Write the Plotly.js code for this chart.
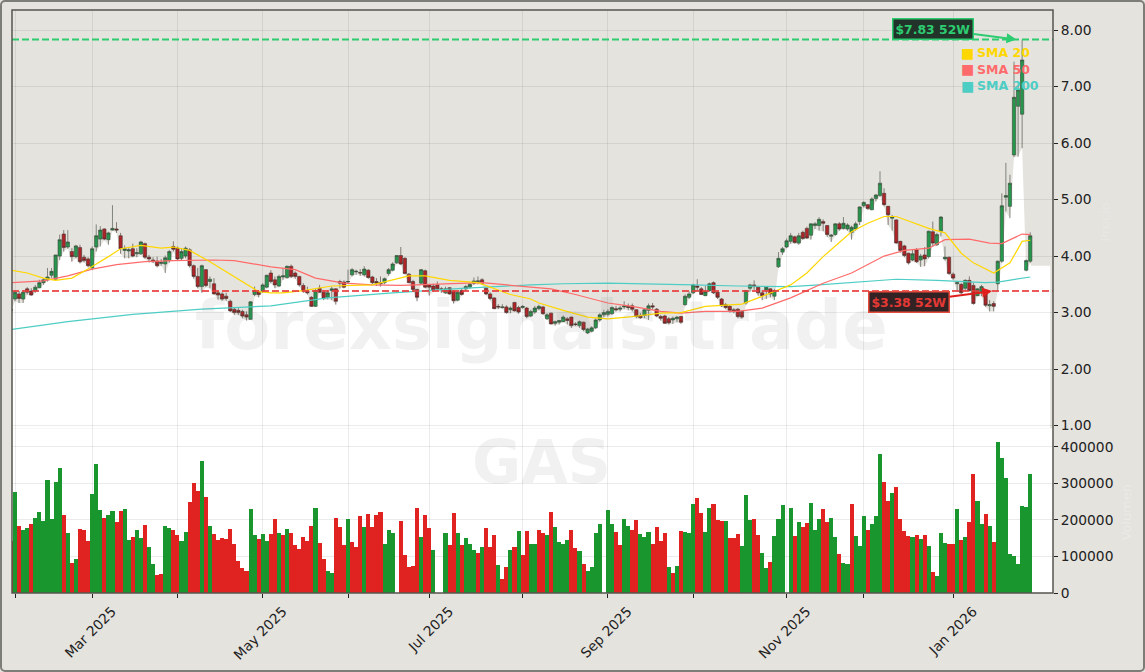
<!DOCTYPE html>
<html>
<head>
<meta charset="utf-8">
<script src="https://cdn.plot.ly/plotly-3.0.1.min.js"></script>
<style>
  html, body { margin: 0; padding: 0; background: #fff; }
  #wrap { position: relative; width: 1145px; height: 672px; }
  #frame { position: absolute; left: 0; top: 0; right: 0; bottom: 0; box-sizing: border-box;
           border: 2px solid #7d7d78; border-radius: 5px; pointer-events: none; }
</style>
</head>
<body>
<div id="wrap"><div id="chart"></div><div id="frame"></div></div>
<script>
// daily candles, index = trading day
var open = [
3.06,3.24,3.33,3.24,3.42,3.38,3.39,3.44,3.53,3.58,3.66,3.59,4.00,4.39,4.16,4.08,3.99,4.15,3.98,3.95,
3.79,4.16,4.30,4.48,4.29,4.46,4.48,4.36,4.10,4.09,4.13,4.04,4.04,4.22,3.98,3.93,3.91,3.87,3.86,3.92,
4.17,4.14,3.96,4.00,4.11,3.83,3.64,3.46,3.76,3.55,3.51,3.35,3.33,3.29,3.20,3.06,3.04,3.02,2.96,2.88,
3.32,3.37,3.37,3.45,3.70,3.58,3.47,3.63,3.62,3.82,3.70,3.64,3.48,3.38,3.27,3.11,3.43,3.36,3.27,3.39,
3.42,3.55,3.54,3.54,3.67,3.72,3.71,3.67,3.75,3.63,3.55,3.53,3.53,3.69,3.75,3.88,4.01,3.96,3.68,3.55,
3.41,3.52,3.74,3.49,3.47,3.49,3.42,3.35,3.44,3.38,3.22,3.39,3.42,3.45,3.52,3.55,3.58,3.43,3.33,3.26,
3.11,3.09,3.10,3.05,3.18,3.09,3.09,3.08,2.94,3.01,3.07,3.10,2.89,2.99,2.81,2.83,2.84,2.89,2.92,2.80,
2.77,2.83,2.64,2.67,2.73,2.87,2.96,2.97,2.98,3.07,3.06,3.10,3.11,3.12,3.05,2.95,2.95,3.04,3.12,3.06,
2.93,2.94,2.89,2.87,2.89,2.93,3.14,3.27,3.35,3.47,3.42,3.30,3.39,3.53,3.36,3.24,3.14,3.11,3.05,3.06,
3.02,3.17,3.43,3.49,3.45,3.35,3.40,3.42,3.29,3.81,4.07,4.16,4.26,4.34,4.23,4.42,4.49,4.37,4.54,4.54,
4.61,4.54,4.35,4.38,4.57,4.49,4.48,4.42,4.48,4.61,4.89,4.91,4.82,5.02,5.07,5.11,4.88,4.67,4.64,4.26,
4.18,4.05,3.93,4.11,3.93,4.02,3.99,4.43,4.20,4.44,3.95,3.98,3.68,3.51,3.50,3.43,3.57,3.48,3.30,3.375,
3.375,3.12,3.16,3.51,3.91,5.04,4.88,5.79,6.65,6.51,3.75,3.91];
var close = [
3.04,3.36,3.25,3.36,3.36,3.31,3.45,3.53,3.58,3.63,3.73,4.02,4.29,4.15,4.25,3.99,4.18,3.90,3.92,3.83,
4.13,4.36,4.46,4.30,4.41,4.49,4.46,4.13,4.13,4.11,4.00,4.06,4.25,3.98,3.95,3.90,3.83,3.89,3.97,4.08,
4.12,3.95,4.08,4.14,3.83,3.64,3.46,3.83,3.48,3.59,3.33,3.31,3.24,3.25,3.03,3.00,3.00,2.94,2.92,3.19,
3.39,3.32,3.49,3.66,3.55,3.49,3.64,3.65,3.82,3.64,3.64,3.49,3.38,3.35,3.11,3.39,3.36,3.25,3.35,3.42,
3.20,3.52,3.45,3.55,3.76,3.73,3.70,3.77,3.62,3.53,3.52,3.51,3.60,3.76,3.86,4.01,3.86,3.69,3.53,3.41,
3.27,3.76,3.45,3.45,3.40,3.42,3.41,3.42,3.33,3.21,3.36,3.32,3.46,3.50,3.56,3.56,3.52,3.33,3.25,3.07,
3.10,3.10,3.00,3.08,3.03,3.01,3.11,2.93,3.02,3.08,3.11,2.98,2.96,2.80,2.84,2.86,2.92,2.86,2.77,2.79,
2.84,2.70,2.71,2.73,2.87,2.96,3.00,3.02,3.09,3.05,3.08,3.12,3.09,3.06,2.93,2.91,3.05,3.12,3.10,2.94,
2.90,2.81,2.82,2.90,2.92,2.83,3.29,3.33,3.49,3.45,3.32,3.37,3.51,3.35,3.27,3.12,3.09,3.04,3.02,2.93,
2.92,3.39,3.49,3.46,3.35,3.30,3.45,3.33,3.39,3.96,4.13,4.27,4.36,4.24,4.36,4.31,4.32,4.57,4.57,4.65,
4.58,4.38,4.37,4.57,4.48,4.58,4.55,4.51,4.57,4.87,4.95,4.84,5.01,5.08,5.29,4.91,4.73,4.70,4.23,4.10,
4.01,3.88,4.04,3.90,4.00,3.95,4.44,4.23,4.38,4.69,3.98,3.69,3.61,3.53,3.35,3.57,3.39,3.16,3.42,3.46,
3.13,3.14,3.11,3.91,4.89,5.07,5.29,6.81,6.94,7.47,3.92,4.36];
var high = [
3.10,3.39,3.38,3.39,3.45,3.43,3.49,3.58,3.61,3.79,3.79,4.02,4.38,4.46,4.46,4.14,4.20,4.20,4.02,3.98,
4.17,4.56,4.53,4.49,4.43,4.90,4.60,4.41,4.19,4.14,4.22,4.14,4.27,4.24,4.02,3.98,3.99,3.95,4.01,4.11,
4.26,4.17,4.14,4.17,4.14,3.85,3.79,3.85,3.77,3.64,3.61,3.38,3.36,3.35,3.23,3.10,3.08,3.05,3.02,3.20,
3.46,3.40,3.52,3.67,3.75,3.64,3.67,3.79,3.83,3.85,3.73,3.65,3.52,3.46,3.29,3.42,3.49,3.40,3.40,3.46,
3.43,3.58,3.57,3.76,3.79,3.76,3.77,3.82,3.77,3.65,3.61,3.64,3.62,3.79,3.89,4.02,4.16,3.98,3.70,3.58,
3.42,3.77,3.76,3.49,3.51,3.55,3.45,3.46,3.45,3.39,3.38,3.42,3.49,3.53,3.62,3.64,3.61,3.45,3.36,3.27,
3.15,3.15,3.13,3.11,3.19,3.12,3.13,3.10,3.05,3.12,3.14,3.12,2.99,3.00,2.86,2.87,2.95,2.92,2.93,2.83,
2.86,2.84,2.73,2.76,2.90,2.99,3.05,3.06,3.11,3.12,3.12,3.20,3.16,3.16,3.06,2.99,3.06,3.16,3.17,3.08,
2.96,2.96,2.92,2.93,2.94,2.94,3.32,3.37,3.51,3.59,3.45,3.47,3.53,3.55,3.37,3.26,3.17,3.13,3.08,3.08,
3.04,3.40,3.51,3.57,3.47,3.40,3.46,3.43,3.42,4.07,4.16,4.31,4.41,4.36,4.41,4.45,4.52,4.58,4.60,4.69,
4.65,4.55,4.39,4.58,4.60,4.69,4.58,4.54,4.61,4.88,4.97,4.92,5.04,5.10,5.50,5.20,4.89,4.73,4.65,4.27,
4.20,4.06,4.12,4.14,4.04,4.16,4.45,4.61,4.41,4.71,4.17,3.99,3.71,3.55,3.52,3.59,3.64,3.53,3.43,3.49,
3.39,3.22,3.20,3.92,5.11,5.65,5.44,7.44,7.02,7.83,3.94,4.42];
var low = [
3.02,3.20,3.17,3.17,3.32,3.30,3.35,3.43,3.49,3.55,3.61,3.58,3.93,4.08,4.13,3.90,3.96,3.87,3.89,3.80,
3.75,4.08,4.17,4.28,4.20,4.45,4.41,4.04,3.96,3.96,3.98,3.98,4.02,3.95,3.89,3.88,3.80,3.83,3.70,3.88,
4.08,3.93,3.93,3.96,3.80,3.60,3.43,3.35,3.45,3.43,3.32,3.23,3.21,3.21,3.01,2.96,2.96,2.90,2.86,2.87,
3.29,3.27,3.35,3.43,3.52,3.43,3.45,3.58,3.60,3.61,3.60,3.46,3.35,3.32,3.10,3.10,3.35,3.22,3.23,3.22,
3.14,3.43,3.43,3.52,3.64,3.67,3.65,3.64,3.60,3.50,3.47,3.46,3.50,3.65,3.73,3.86,3.84,3.68,3.52,3.39,
3.20,3.51,3.43,3.30,3.37,3.39,3.35,3.33,3.32,3.16,3.20,3.30,3.39,3.42,3.49,3.50,3.49,3.31,3.22,3.06,
3.06,3.07,2.98,2.99,3.02,2.98,3.07,2.90,2.92,2.98,3.04,2.96,2.87,2.79,2.77,2.79,2.83,2.79,2.73,2.76,
2.73,2.67,2.62,2.65,2.71,2.84,2.92,2.93,2.96,3.02,3.02,3.06,3.04,3.02,2.90,2.89,2.90,2.87,3.05,2.92,
2.86,2.80,2.79,2.80,2.83,2.80,3.12,3.24,3.33,3.39,3.31,3.29,3.37,3.33,3.24,3.10,3.06,3.00,2.99,2.90,
2.89,3.14,3.37,3.40,3.30,3.22,3.24,3.27,3.22,3.79,4.02,4.14,4.22,4.22,4.20,4.29,4.30,4.29,4.48,4.45,
4.44,4.34,4.25,4.36,4.45,4.47,4.45,4.29,4.45,4.55,4.86,4.82,4.81,4.97,5.05,4.88,4.55,4.45,4.22,4.06,
3.98,3.85,3.91,3.88,3.81,3.82,3.96,4.17,4.18,4.35,3.92,3.67,3.58,3.375,3.33,3.39,3.375,3.14,3.29,3.29,
3.10,3.02,3.02,3.375,3.88,4.79,4.67,5.75,5.76,5.91,3.73,3.88];
var volume = [
141000,276000,184000,173000,178000,189000,205000,222000,197000,309000,203000,304000,342000,214000,165000,83000,94000,175000,173000,143000,
271000,353000,227000,205000,214000,225000,195000,225000,230000,145000,154000,173000,151000,186000,126000,80000,50000,53000,184000,178000,
173000,159000,143000,167000,249000,301000,279000,361000,263000,184000,162000,145000,151000,148000,175000,135000,88000,69000,61000,230000,
159000,148000,162000,143000,162000,203000,165000,159000,175000,165000,132000,121000,154000,143000,184000,233000,137000,94000,61000,55000,
205000,181000,132000,203000,140000,126000,211000,181000,216000,181000,214000,222000,135000,173000,165000,0,197000,105000,72000,75000,
233000,154000,214000,178000,118000,0,0,165000,132000,219000,165000,132000,151000,135000,118000,110000,126000,178000,126000,159000,
77000,39000,72000,118000,126000,170000,105000,170000,135000,135000,173000,165000,159000,222000,181000,140000,135000,145000,173000,124000,
115000,80000,61000,72000,165000,189000,0,227000,189000,167000,132000,203000,184000,173000,200000,162000,154000,167000,135000,181000,
143000,165000,72000,55000,75000,170000,167000,165000,244000,260000,219000,167000,233000,244000,200000,197000,197000,151000,151000,162000,
129000,268000,200000,203000,159000,110000,69000,85000,156000,203000,241000,0,233000,156000,195000,181000,192000,246000,173000,203000,
230000,195000,205000,154000,107000,83000,80000,244000,156000,129000,211000,173000,189000,211000,380000,304000,252000,274000,290000,203000,
170000,156000,154000,159000,148000,159000,129000,58000,47000,165000,137000,135000,135000,230000,145000,154000,195000,325000,252000,189000,
216000,184000,140000,413000,369000,315000,107000,102000,80000,238000,235000,325000];
// bar colour per day, g = green, r = red
var volumeDir = (
"rgrggrgggggggrgrgrrr" + "gggrggrrggrggrggrrgg" + "rrggrrrgrgrrrrrrrrrg" + "grggrrgrgrrrrrrgrrgg" +
"rrrgrrrgrrrrggggrrrr" + "rgrrggggrrgrgggrgrrr" + "grrgrgrrggrrgrggggrr" + "grgggggggrrggrrgggrr" +
"rrgrgrgggrrggrrrgrrr" + "gggrrggrgggggrgrrggg" + "rrggrggrgggrgggrrgrr" + "rrgrgrgrgggrrgrgrrgg" +
"rgrggggggggg").split("");

// moving averages read at their bends
var sma20Days = [0,4,8,11,15,19,24,27,32,37,40,44,49,55,61,64,67,72,79,89,94,98,102,108,115,119,123,128,130,136,142,147,153,160,165,171,180,184,192,196,200,207,211,215,218,226,230,234,237,242,246,249,251];
var sma20 = [3.75,3.70,3.61,3.57,3.61,3.77,3.99,4.13,4.19,4.14,4.16,4.10,3.90,3.64,3.37,3.35,3.35,3.39,3.47,3.49,3.58,3.65,3.65,3.57,3.53,3.43,3.32,3.24,3.17,3.04,2.92,2.89,2.93,2.99,3.00,3.11,3.15,3.26,3.49,3.70,3.99,4.43,4.58,4.70,4.70,4.49,4.41,4.05,3.88,3.70,3.88,4.26,4.28];
var sma50Days = [0,8,14,20,26,33,40,50,55,64,70,75,82,89,96,106,116,128,133,139,147,153,160,165,171,179,185,192,200,207,215,220,226,230,236,241,244,249,251];
var sma50 = [3.53,3.56,3.65,3.77,3.85,3.90,3.92,3.93,3.92,3.81,3.76,3.61,3.52,3.49,3.48,3.51,3.53,3.45,3.42,3.32,3.17,3.11,3.02,2.99,3.02,3.02,3.08,3.26,3.52,3.70,4.00,4.10,4.14,4.29,4.30,4.23,4.22,4.39,4.38];
var sma200Days = [0,14,30,47,64,78,94,111,128,136,147,158,168,179,192,199,218,228,240,243,251];
var sma200 = [2.70,2.84,2.97,3.06,3.12,3.26,3.35,3.43,3.49,3.51,3.52,3.51,3.49,3.47,3.46,3.49,3.59,3.57,3.53,3.54,3.63];

// axis labels, one tick per month, every second one named
var tickDays = [1,20,41,62,83,103,126,147,168,191,210,232];
var tickLabels = ['','Mar 2025','','May 2025','','Jul 2025','','Sep 2025','','Nov 2025','','Jan 2026'];
var priceTicks = [1,2,3,4,5,6,7,8];
var volumeTicks = [0,100000,200000,300000,400000];
var high52 = 7.83, low52 = 3.38;
var legendNames = ['SMA 20','SMA 50','SMA 200'];
var legendColors = ['#ffd700','#ff6b6b','#4ecdc4'];

var days = close.map(function(d, i){ return i; });
var xStart = 0.26, xEnd = 256.6, fillEdge = 255.9, fillLevel = 3.83, priceTop = 8.354, priceBottom = 0.95;
var paperBg = '#e5e3de', font = 'DejaVu Sans, sans-serif';

// page pixels to paper fractions, for the decorations only
var plotL = 12, plotR = 1053, plotT = 10, plotB = 593.5;
function px(x){ return (x - plotL) / (plotR - plotL); }
function py(y){ return (plotB - y) / (plotB - plotT); }

// beige covers everything above the lows, white stays below them
var fill = {
  x: [xStart, xEnd, xEnd, fillEdge, fillEdge, days.length - 0.8].concat(days.slice().reverse()),
  y: [priceTop, priceTop, priceBottom, priceBottom, fillLevel, fillLevel].concat(low.slice().reverse()),
  mode: 'lines', line: {width: 0}, fill: 'toself', fillcolor: 'rgba(82,68,35,0.15)',
  hoverinfo: 'skip', type: 'scatter', xaxis: 'x', yaxis: 'y'
};
var candles = {
  type: 'candlestick', x: days, open: open, high: high, low: low, close: close,
  increasing: {line: {color: '#39443c', width: 0.6}, fillcolor: '#1fa555'},
  decreasing: {line: {color: '#40302f', width: 0.6}, fillcolor: '#c01f2a'},
  xaxis: 'x', yaxis: 'y'
};
function smaTrace(x, y, color){
  return {x: x, y: y, mode: 'lines', line: {color: color, width: 1.2}, type: 'scatter', xaxis: 'x', yaxis: 'y'};
}
var bars = {
  type: 'bar', x: days, y: volume, width: 1, opacity: 0.98,
  marker: {color: volumeDir.map(function(d){ return d == 'g' ? '#16942a' : '#e01f1c'; }), line: {width: 0}},
  xaxis: 'x', yaxis: 'y2'
};

function textNote(text, x, y, size, color, extra){
  var note = {text: text, xref: 'paper', yref: 'paper', x: px(x), y: py(y), xanchor: 'center', yanchor: 'middle',
    showarrow: false, font: {family: font, size: size, color: color}};
  for (var k in extra) note[k] = extra[k];
  return note;
}
var annotations = [
  textNote('<b>forexsignals.trade</b>', 541, 326, 67, 'rgba(120,120,120,0.1)'),
  textNote('<b>GAS</b>', 541, 462, 60, 'rgba(120,120,120,0.1)'),
  {text: '<b>$' + high52.toFixed(2) + ' 52W</b>', xref: 'x', yref: 'y', x: 247.6, y: high52, ax: -83, ay: -11,
   axref: 'pixel', ayref: 'pixel', showarrow: true, arrowhead: 2, arrowsize: 1, arrowwidth: 2, arrowcolor: '#2ecc71',
   bgcolor: '#22332a', bordercolor: '#2ecc71', borderwidth: 1.5, borderpad: 2,
   font: {family: font, size: 12.4, color: '#2ecc71'}},
  {text: '<b>$' + low52.toFixed(2) + ' 52W</b>', xref: 'x', yref: 'y', x: 241.6, y: low52, ax: -83, ay: 11,
   axref: 'pixel', ayref: 'pixel', showarrow: true, arrowhead: 2, arrowsize: 1, arrowwidth: 2, arrowcolor: '#e01f1c',
   bgcolor: '#332224', bordercolor: '#e74c3c', borderwidth: 1.5, borderpad: 2,
   font: {family: font, size: 12.4, color: '#e53935'}},
  textNote('Precio', 1106, 223, 13, 'rgba(255,255,255,0.18)', {textangle: -90}),
  textNote('Volumen', 1127, 513, 13, 'rgba(255,255,255,0.25)', {textangle: -90})
];
legendNames.forEach(function(name, i){
  annotations.push(textNote('■', 967, 53 + i * 16.5, 14, legendColors[i]));
  annotations.push(textNote('<b>' + name + '</b>', 977, 53 + i * 16.5, 12.5, legendColors[i], {xanchor: 'left', xshift: -2}));
});

var frameLine = {color: '#55554f', width: 1.5};
var shapes = [
  {type: 'line', xref: 'paper', yref: 'y', x0: 0, x1: 1, y0: high52, y1: high52,
   line: {color: '#2ecc71', width: 2, dash: '7px,3px'}},
  {type: 'line', xref: 'paper', yref: 'y', x0: 0, x1: 1, y0: low52, y1: low52,
   line: {color: 'rgba(231,60,60,0.85)', width: 2, dash: '7px,3px'}},
  {type: 'rect', xref: 'paper', yref: 'paper', x0: 0, x1: 1, y0: 0, y1: 1, line: frameLine}
];

var gridColor = 'rgba(0,0,0,0.08)';
var tickFont = {family: font, size: 13.8, color: '#222'};
var split = py(428.8);
var layout = {
  width: 1145, height: 672, showlegend: false, hovermode: false,
  margin: {l: plotL, r: 1145 - plotR, t: plotT, b: 672 - plotB, pad: 0},
  paper_bgcolor: paperBg, plot_bgcolor: '#ffffff', boxgap: 0.1, boxgroupgap: 0.1, bargap: 0,
  xaxis: {
    domain: [0, 1], range: [xStart, xEnd], anchor: 'y2', tickmode: 'array', tickvals: tickDays, ticktext: tickLabels,
    tickangle: -45, ticks: 'outside', ticklen: 4, tickcolor: '#222', tickfont: tickFont, ticklabelshift: 20,
    gridcolor: gridColor, zeroline: false, rangeslider: {visible: false}, showline: false
  },
  yaxis: {
    domain: [split, 1], range: [priceBottom, priceTop], side: 'right', anchor: 'x', tickmode: 'array', tickvals: priceTicks,
    tickformat: '.2f', ticks: 'outside', ticklen: 4, tickcolor: '#222', tickfont: tickFont, gridcolor: gridColor, zeroline: false
  },
  yaxis2: {
    domain: [0, split], range: [0, 450000], side: 'right', anchor: 'x', tickmode: 'array', tickvals: volumeTicks,
    tickformat: 'd', ticks: 'outside', ticklen: 4, tickcolor: '#222', tickfont: tickFont, gridcolor: gridColor, zeroline: false
  },
  annotations: annotations,
  shapes: shapes
};

Plotly.newPlot('chart', [
  fill, bars, candles,
  smaTrace(sma200Days, sma200, '#4ecdc4'),
  smaTrace(sma50Days, sma50, '#ff6b6b'),
  smaTrace(sma20Days, sma20, '#ffd700')
], layout, {displayModeBar: false, staticPlot: true});
</script>
</body>
</html>
